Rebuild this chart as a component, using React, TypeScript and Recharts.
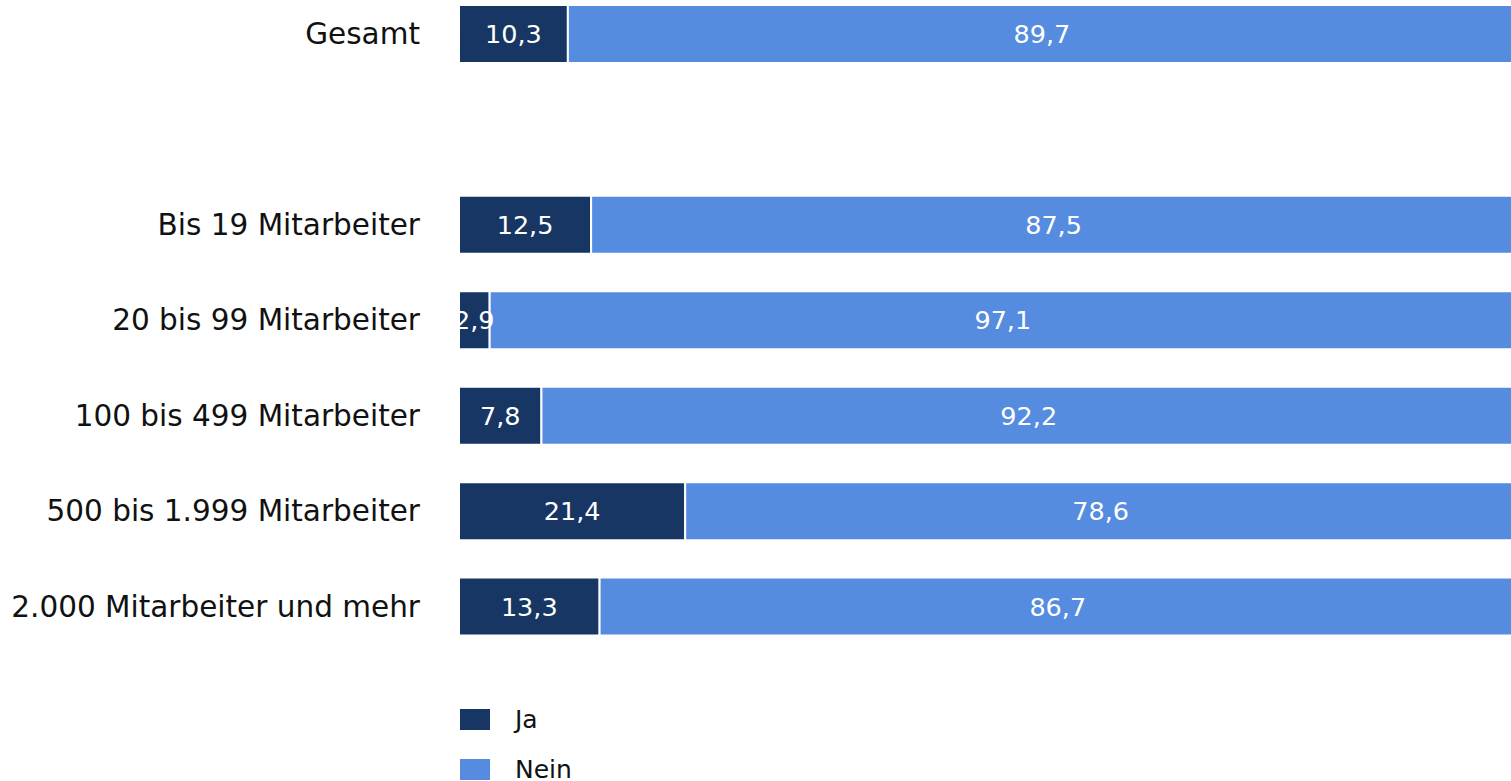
import React from "react";
import { BarChart, Bar, XAxis, YAxis, Legend, LabelList } from "recharts";

const categories = [
  "Gesamt",
  "",
  "Bis 19 Mitarbeiter",
  "20 bis 99 Mitarbeiter",
  "100 bis 499 Mitarbeiter",
  "500 bis 1.999 Mitarbeiter",
  "2.000 Mitarbeiter und mehr",
];
const ja: (number | null)[] = [10.3, null, 12.5, 2.9, 7.8, 21.4, 13.3];
const nein: (number | null)[] = [89.7, null, 87.5, 97.1, 92.2, 78.6, 86.7];

const JA_COLOR = "#173663";
const NEIN_COLOR = "#558CDF";
const FONT = "'DejaVu Sans', Verdana, sans-serif";

const data = categories.map((name, i) => ({ name, ja: ja[i], nein: nein[i] }));

const fmt = (v: number) => v.toFixed(1).replace(".", ",");

// labels for both segments drawn from the Nein bar so they sit above the Ja bar
const renderLabels = (p: any) => {
  const vb = p.viewBox ?? p;
  const { x, y, width, height } = vb;
  const i = categories.indexOf(p.value);
  const j = ja[i];
  const n = nein[i];
  if (i < 0 || j == null || n == null || !width) return null;
  const unit = width / n;
  const cy = y + height / 2;
  return (
    <g>
      <text x={x - (j * unit) / 2} y={cy} dy="0.36em" textAnchor="middle" fill="#fff" fontSize={25.5} fontFamily={FONT}>
        {fmt(j)}
      </text>
      <text x={x + width / 2} y={cy} dy="0.36em" textAnchor="middle" fill="#fff" fontSize={25.5} fontFamily={FONT}>
        {fmt(n)}
      </text>
    </g>
  );
};

const renderLegend = () => (
  <div style={{ fontFamily: FONT, fontSize: 25, color: "#111" }}>
    {[
      { label: "Ja", color: JA_COLOR },
      { label: "Nein", color: NEIN_COLOR },
    ].map((it) => (
      <div key={it.label} style={{ display: "flex", alignItems: "center", height: 49.5 }}>
        <span style={{ display: "inline-block", width: 30, height: 21, background: it.color, marginRight: 25 }} />
        <span>{it.label}</span>
      </div>
    ))}
  </div>
);

export default function App() {
  return (
    <div style={{ position: "absolute", left: 0, top: 0, width: 1511, height: 781, overflow: "hidden" }}>
      <div style={{ position: "absolute", left: 0, top: -14 }}>
        <BarChart
          width={1516}
          height={795}
          data={data}
          layout="vertical"
          barSize={58}
          margin={{ top: 0, right: 0, left: 0, bottom: 127 }}
        >
          <XAxis type="number" domain={[0, 100]} hide />
          <YAxis
            type="category"
            dataKey="name"
            width={459}
            axisLine={false}
            tickLine={false}
            tickSize={0}
            tickMargin={39}
            interval={0}
            tick={{ fill: "#111", fontSize: 29.5, fontFamily: FONT }}
          />
          <Legend
            layout="vertical"
            align="center"
            verticalAlign="middle"
            content={renderLegend}
            wrapperStyle={{ position: "absolute", left: 460, top: 709, width: 200 }}
          />
          <Bar dataKey="ja" stackId="a" fill={JA_COLOR} stroke="#fff" strokeWidth={2} isAnimationActive={false} />
          <Bar dataKey="nein" stackId="a" fill={NEIN_COLOR} stroke="#fff" strokeWidth={2} isAnimationActive={false}>
            <LabelList dataKey="name" content={renderLabels} />
          </Bar>
        </BarChart>
      </div>
    </div>
  );
}
